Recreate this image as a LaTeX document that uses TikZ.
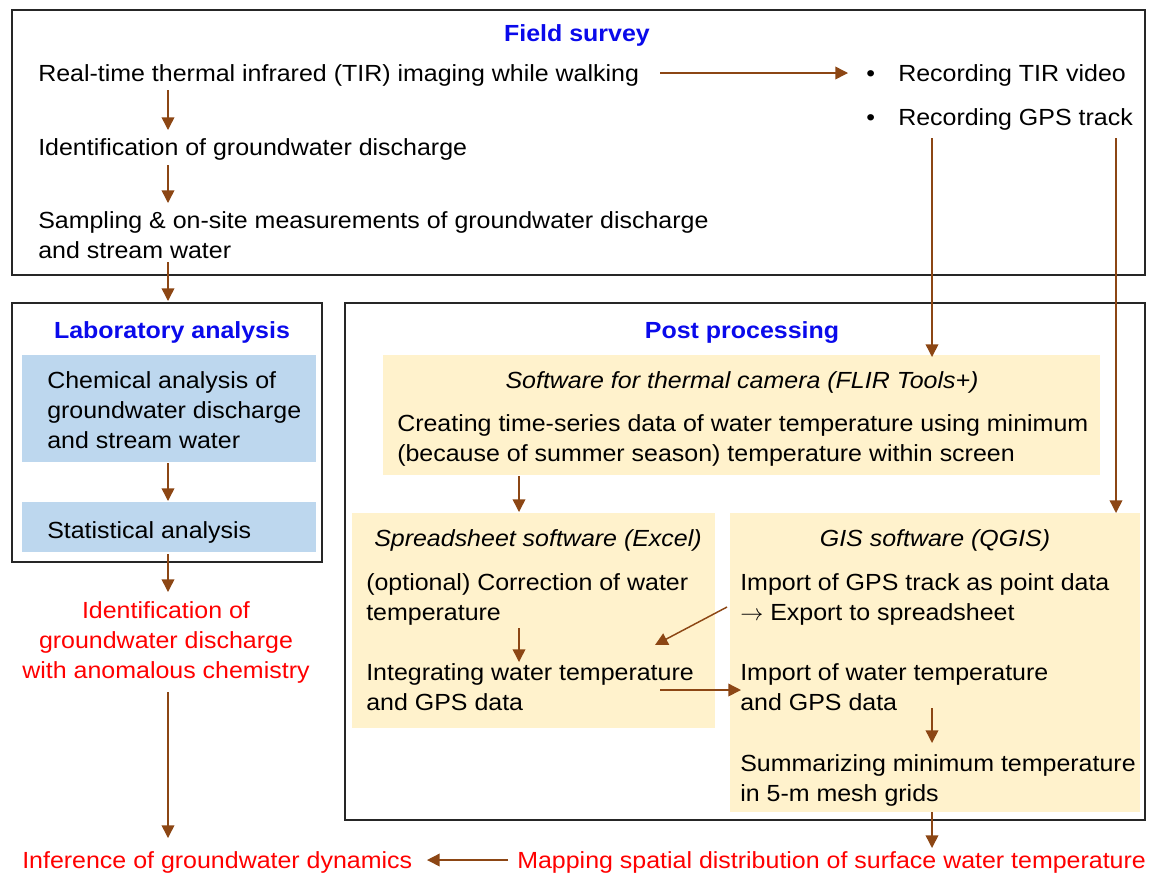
\documentclass[tikz,border=0pt]{standalone}
\usepackage{fontspec}
\setmainfont{Liberation Sans}[FakeStretch=1.07]
\usetikzlibrary{arrows.meta}
\definecolor{arr}{RGB}{140,70,20}
\definecolor{ttl}{RGB}{10,10,235}
\definecolor{redt}{RGB}{255,0,0}
\definecolor{yel}{RGB}{255,242,204}
\definecolor{blu}{RGB}{189,215,238}
\begin{document}
\begin{tikzpicture}[x=0.75pt,y=-0.75pt,
  frame/.style={draw=black!85, line width=1.4pt},
  ybox/.style={fill=yel, draw=none},
  bbox/.style={fill=blu, draw=none},
  txt/.style={inner sep=0pt, anchor=north west, align=left, font=\fontsize{17.5}{22.5}\selectfont},
  redtxt/.style={txt, text=redt},
  redc/.style={inner sep=0pt, anchor=north, align=center, text=redt, font=\fontsize{17.5}{22.5}\selectfont},
  ttlnode/.style={inner sep=0pt, anchor=base, text=ttl, font=\fontsize{17.5}{22.5}\selectfont\bfseries},
  itnode/.style={inner sep=0pt, anchor=base, font=\fontsize{17.5}{22.5}\selectfont\itshape},
  conn/.style={draw=arr, line width=1.1pt, -{Triangle[length=9.5pt,width=9.5pt]}}
]
\useasboundingbox (0,0) rectangle (1151,876);
% frames
\draw[frame] (12,10) rectangle (1145,275);
\draw[frame] (12,303) rectangle (322,562);
\draw[frame] (345,303) rectangle (1145,820);
% filled boxes
\fill[bbox] (22,355) rectangle (316,462);
\fill[bbox] (22,502) rectangle (316,552);
\fill[ybox] (383,355) rectangle (1100,475);
\fill[ybox] (352,513) rectangle (715,728);
\fill[ybox] (730,513) rectangle (1140,812);
% titles
\node[ttlnode] (fst) at (577,41) {Field survey};
\node[ttlnode] (labt) at (172,338) {Laboratory analysis};
\node[ttlnode] (postt) at (742,338) {Post processing};
% field survey texts
\node[txt] (rt) at (38,60) {\strut Real-time thermal infrared (TIR) imaging while walking};
\node[txt] (b1) at (866,60) {\strut\makebox[24pt][l]{•}Recording TIR video};
\node[txt] (b2) at (866,104) {\strut\makebox[24pt][l]{•}Recording GPS track};
\node[txt] (idg) at (38,134) {\strut Identification of groundwater discharge};
\node[txt] (samp) at (38,207) {\strut Sampling \& on-site measurements of groundwater discharge\\and stream water};
% lab
\node[txt] (chem) at (47,367) {\strut Chemical analysis of\\groundwater discharge\\and stream water};
\node[txt] (stat) at (47,517) {\strut Statistical analysis};
\node[redc] (idanom) at (166,597) {\strut Identification of\\groundwater discharge\\with anomalous chemistry};
\node[redtxt] (inf) at (22,847) {\strut Inference of groundwater dynamics};
\node[redtxt] (mapp) at (517,847) {\strut Mapping spatial distribution of surface water temperature};
% post processing
\node[itnode] (flirt) at (742,388) {Software for thermal camera (FLIR Tools+)};
\node[txt] (creat) at (397,410) {\strut Creating time-series data of water temperature using minimum\\(because of summer season) temperature within screen};
\node[itnode] (sprt) at (538,546) {Spreadsheet software (Excel)};
\node[txt] (corr) at (366,569) {\strut (optional) Correction of water\\temperature};
\node[txt] (integ) at (366,659) {\strut Integrating water temperature\\and GPS data};
\node[itnode] (gist) at (935,546) {GIS software (QGIS)};
\node[txt] (impg) at (740,569) {\strut Import of GPS track as point data\\$\rightarrow$ Export to spreadsheet};
\node[txt] (impw) at (740,659) {\strut Import of water temperature\\and GPS data};
\node[txt] (summ) at (740,750) {\strut Summarizing minimum temperature\\in 5-m mesh grids};
% connector coordinates
\coordinate (a1s) at (660,73);  \coordinate (a1e) at (848,73);
\coordinate (a2s) at (168,90);  \coordinate (a2e) at (168,130);
\coordinate (a3s) at (168,165); \coordinate (a3e) at (168,203);
\coordinate (a4s) at (168,262); \coordinate (a4e) at (168,301);
\coordinate (a5s) at (168,463); \coordinate (a5e) at (168,501);
\coordinate (a6s) at (168,554); \coordinate (a6e) at (168,592);
\coordinate (a7s) at (168,692); \coordinate (a7e) at (168,838);
\coordinate (a8s) at (508,860); \coordinate (a8e) at (427,860);
\coordinate (a9s) at (932,138); \coordinate (a9e) at (932,357);
\coordinate (a10s) at (1116,138); \coordinate (a10e) at (1116,513);
\coordinate (a11s) at (519,476); \coordinate (a11e) at (519,512);
\coordinate (a12s) at (519,628); \coordinate (a12e) at (519,662);
\coordinate (a13s) at (727,607); \coordinate (a13e) at (655,645);
\coordinate (a14s) at (660,690); \coordinate (a14e) at (741,690);
\coordinate (a15s) at (932,708); \coordinate (a15e) at (932,743);
\coordinate (a16s) at (932,812); \coordinate (a16e) at (932,848);
\foreach \i in {1,...,16} \draw[conn] (a\i s) -- (a\i e);
\end{tikzpicture}
\end{document}
